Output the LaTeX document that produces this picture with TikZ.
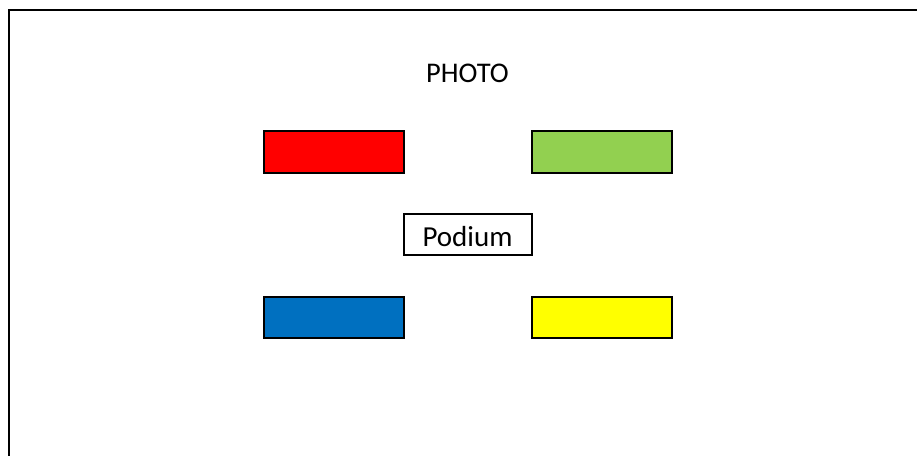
\documentclass[tikz,border=0pt]{standalone}
\usepackage{fontspec}
\setmainfont{Carlito}
\definecolor{cred}{HTML}{FF0000}
\definecolor{cgreen}{HTML}{92D050}
\definecolor{cblue}{HTML}{0070C0}
\definecolor{cyellow}{HTML}{FFFF00}
\tikzset{
  box/.style={draw=black, line width=2pt},
}
\begin{document}
\begin{tikzpicture}[x=1pt,y=-1pt]
\useasboundingbox (0,0) rectangle (917,455);
\fill[white] (0,0) rectangle (917,455);
\begin{scope}
\clip (0,0) rectangle (917,455);
\draw[line width=2pt] (8.5,470) -- (8.5,9.5) -- (930,9.5);
\end{scope}
\node (photo) [anchor=base, inner sep=0pt, font=\fontsize{28.5}{34}\selectfont] at (467.5,82.5) {PHOTO};
\draw[box, fill=cred] (264,131) rectangle (404,173) node[midway] (red) {};
\draw[box, fill=cgreen] (532,131) rectangle (672,173) node[midway] (green) {};
\draw[box, fill=cblue] (264,297) rectangle (404,338) node[midway] (blue) {};
\draw[box, fill=cyellow] (532,297) rectangle (672,338) node[midway] (yellow) {};
\draw[box, fill=white] (404,214) rectangle (532,255);
\node (podium) [anchor=base, inner sep=0pt, font=\fontsize{29}{35}\selectfont] at (467.5,246) {Podium};
\end{tikzpicture}
\end{document}
